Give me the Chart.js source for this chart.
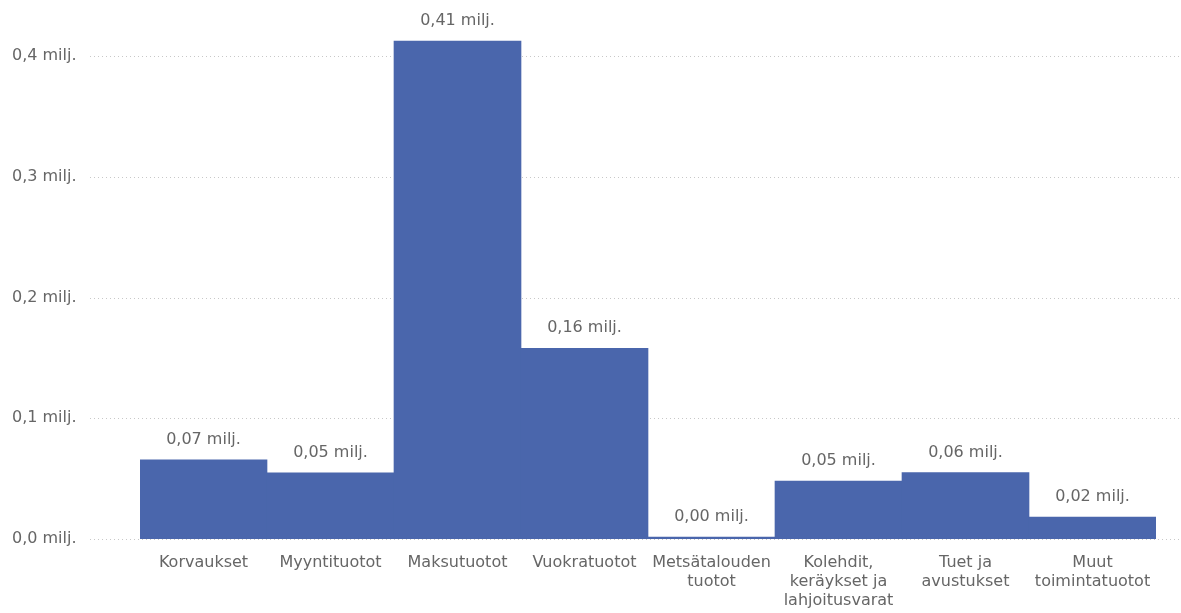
<!DOCTYPE html>
<html>
<head>
<meta charset="utf-8">
<script src="https://cdn.jsdelivr.net/npm/chart.js@4.4.1/dist/chart.umd.min.js"></script>
<style>
  body { margin: 0; background: #fff; }
  #wrap { width: 1181px; height: 613px; }
</style>
</head>
<body>
<div id="wrap"><canvas id="chart"></canvas></div>
<script>
// categories and values (milj.)
const categories = [
    "Korvaukset",
    "Myyntituotot",
    "Maksutuotot",
    "Vuokratuotot",
    ["Metsätalouden", "tuotot"],
    ["Kolehdit,", "keräykset ja", "lahjoitusvarat"],
    ["Tuet ja", "avustukset"],
    ["Muut", "toimintatuotot"]
];
const values = [0.0655, 0.0549, 0.4125, 0.158, 0.0015, 0.048, 0.0551, 0.0182];
const yTicks = [0, 0.1, 0.2, 0.3, 0.4];

const fontFamily = "'DejaVu Sans', sans-serif";

function fmt(v, digits) {
    return v.toFixed(digits).replace('.', ',') + ' milj.';
}

// dotted grid lines across the full width
const gridPlugin = {
    id: 'dotGrid',
    beforeDatasetsDraw(chart) {
        const ctx = chart.ctx;
        const y = chart.scales.y;
        ctx.save();
        ctx.strokeStyle = '#c8c8c8';
        ctx.lineWidth = 1;
        ctx.setLineDash([1, 3]);
        yTicks.forEach(t => {
            const py = Math.round(y.getPixelForValue(t)) + 0.5;
            ctx.beginPath();
            ctx.moveTo(90, py);
            ctx.lineTo(chart.width, py);
            ctx.stroke();
        });
        ctx.restore();
    }
};

// value labels above the bars
const labelPlugin = {
    id: 'valueLabels',
    afterDatasetsDraw(chart) {
        const ctx = chart.ctx;
        const meta = chart.getDatasetMeta(0);
        ctx.save();
        ctx.font = '16px ' + fontFamily;
        ctx.fillStyle = '#666';
        ctx.textAlign = 'center';
        ctx.textBaseline = 'bottom';
        meta.data.forEach((bar, i) => {
            ctx.fillText(fmt(values[i], 2), bar.x, bar.y - 12);
        });
        ctx.restore();
    }
};

const ctx = document.getElementById('chart').getContext('2d');
new Chart(ctx, {
    type: 'bar',
    data: {
        labels: categories,
        datasets: [{
            data: values,
            backgroundColor: '#4A66AC',
            barPercentage: 1,
            categoryPercentage: 1
        }]
    },
    options: {
        responsive: true,
        maintainAspectRatio: false,
        animation: false,
        layout: { padding: { top: 20, left: 12, right: 25, bottom: 0 } },
        plugins: {
            legend: { display: false },
            tooltip: { enabled: false }
        },
        scales: {
            x: {
                grid: { display: false },
                border: { display: false },
                afterFit(scale) { scale.height = 74; },
                ticks: {
                    color: '#666',
                    font: { family: fontFamily, size: 16, lineHeight: 1.2 },
                    maxRotation: 0,
                    autoSkip: false,
                    padding: 6
                }
            },
            y: {
                min: 0,
                max: 0.43,
                afterBuildTicks(scale) {
                    scale.ticks = yTicks.map(v => ({ value: v }));
                },
                afterFit(scale) { scale.width = 128; },
                grid: { display: false },
                border: { display: false },
                ticks: {
                    color: '#666',
                    font: { family: fontFamily, size: 16 },
                    padding: 0,
                    crossAlign: 'far',
                    callback: v => fmt(v, 1)
                }
            }
        }
    },
    plugins: [gridPlugin, labelPlugin]
});
</script>
</body>
</html>
